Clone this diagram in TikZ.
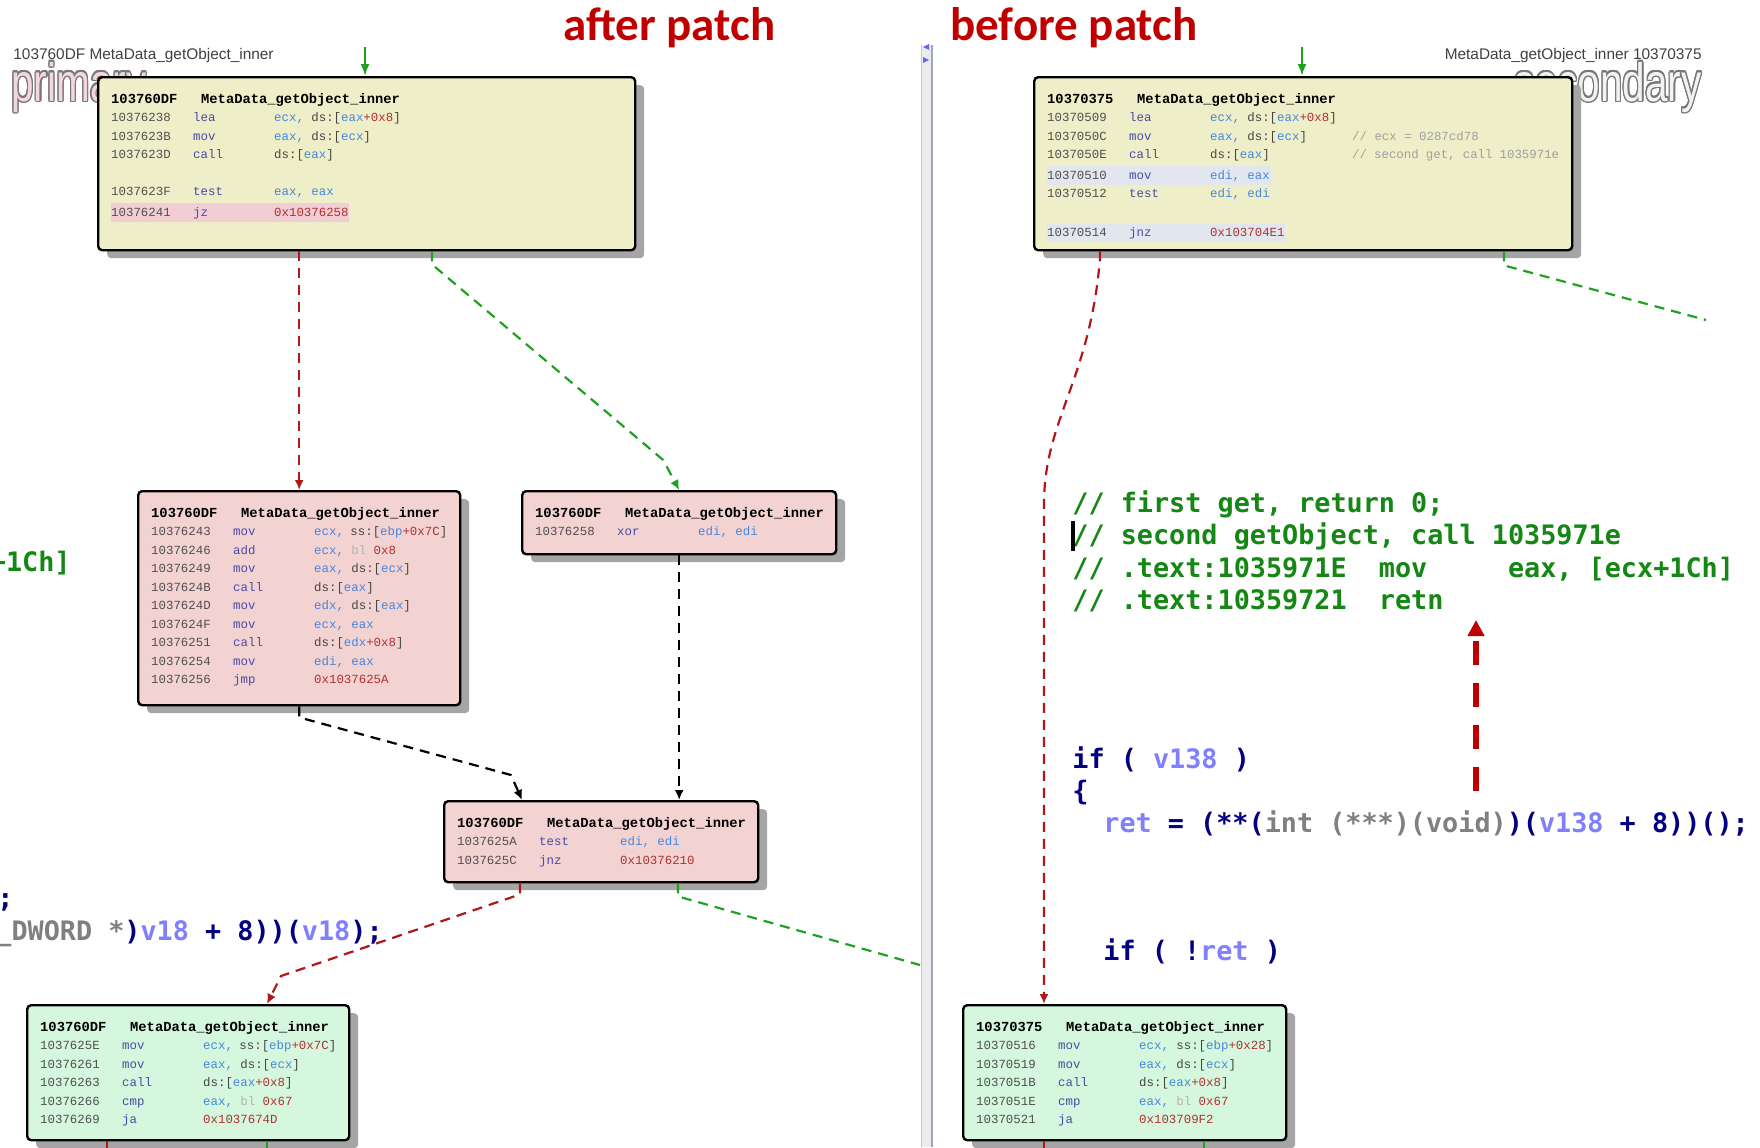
\documentclass[tikz,border=0pt]{standalone}
\usepackage{graphicx,xcolor}
\usepackage{fontspec}
\setmainfont{Liberation Sans}
\newfontfamily\asmfont{Liberation Mono}
\newfontfamily\codefont{DejaVu Sans Mono}
\newfontfamily\titlefont{Carlito}
\usepackage[copies]{contour}
\contourlength{0.8pt}
\usetikzlibrary{arrows.meta,shadows}
\definecolor{R1}{RGB}{176,24,24}
\definecolor{G1}{RGB}{34,160,34}
\definecolor{T1}{RGB}{192,0,0}
\definecolor{Y1}{RGB}{238,238,200}
\definecolor{P1}{RGB}{243,210,210}
\definecolor{E1}{RGB}{212,247,221}
\definecolor{S1}{RGB}{165,165,165}
\definecolor{HP}{RGB}{242,206,212}
\definecolor{HB}{RGB}{226,230,238}
\definecolor{AD}{RGB}{80,80,80}
\definecolor{MN}{RGB}{75,75,165}
\definecolor{RG}{RGB}{70,135,220}
\definecolor{NB}{RGB}{175,50,50}
\definecolor{OP}{RGB}{70,70,70}
\definecolor{BL}{RGB}{180,180,180}
\definecolor{CM}{RGB}{160,160,160}
\definecolor{LG}{RGB}{64,64,64}
\definecolor{WP}{RGB}{244,214,222}
\definecolor{WS}{RGB}{242,242,242}
\definecolor{WO}{RGB}{120,120,120}
\definecolor{NV}{RGB}{0,0,128}
\definecolor{VR}{RGB}{128,128,255}
\definecolor{CS}{RGB}{128,128,128}
\definecolor{CG}{RGB}{20,135,20}
\definecolor{DV}{RGB}{236,236,238}
\definecolor{DL}{RGB}{160,168,182}
\newcommand{\asmpane}[3]{\begin{minipage}[t][#2][t]{#1}\asmfont\fontsize{6.2}{9.25}\selectfont#3\end{minipage}}
\newcommand{\asmhead}[2]{\strut{\bfseries\fontsize{6.9}{9.25}\selectfont\makebox[45pt][l]{#1}#2}\par}
\newcommand{\asmline}[3]{\strut\makebox[41pt][l]{\color{AD}#1}\makebox[40.5pt][l]{\color{MN}#2}{\color{OP}#3}\par}
\newcommand{\asmnote}[4]{\strut\makebox[41pt][l]{\color{AD}#1}\makebox[40.5pt][l]{\color{MN}#2}\makebox[71pt][l]{\color{OP}#3}{\color{CM}#4}\par}
\newcommand{\asmgap}{\strut\par}
\newcommand{\asmmark}[2]{\makebox[0pt][l]{\color{#1}\rule[-2.7pt]{#2}{9.25pt}}}
\newcommand{\asmreg}[1]{\textcolor{RG}{#1}}
\newcommand{\asmnum}[1]{\textcolor{NB}{#1}}
\newcommand{\asmbl}[1]{\textcolor{BL}{#1}}
\begin{document}
\begin{tikzpicture}[x=0.5pt, y=-0.5pt,
    asmbox/.style={draw=black, line width=1.2pt, rounded corners=2pt, inner sep=6.5pt, anchor=north west,
      drop shadow={shadow xshift=4.5pt, shadow yshift=-4pt, fill=S1, opacity=1}},
    redflow/.style={R1, line width=1.1pt, dash pattern=on 5pt off 3.5pt, -{Latex[length=5pt,width=4.5pt]}},
    greenflow/.style={G1, line width=1.1pt, dash pattern=on 5pt off 3.5pt, -{Latex[length=5pt,width=4.5pt]}},
    blackflow/.style={black, line width=1.1pt, dash pattern=on 5pt off 3.5pt, -{Latex[length=5pt,width=4.5pt]}},
    entryarrow/.style={G1, line width=1.1pt, -{Latex[length=6pt,width=4.5pt]}},
    tag/.style={inner sep=0, text=LG, font=\fontsize{7.7}{9}\selectfont},
    wmark/.style={inner sep=0, font=\fontsize{27}{30}\selectfont},
    headline/.style={anchor=base west, inner sep=0, text=T1, font=\titlefont\bfseries\fontsize{23.5}{28}\selectfont},
    codeline/.style={anchor=base west, inner sep=0, font=\codefont\bfseries\fontsize{13.4}{16}\selectfont}]
  \path[use as bounding box, fill=white] (0,0) rectangle (1760,1147);
  % divider between the two views
  \fill[DV] (921,45) rectangle (932,1147);
  \draw[DL, line width=1pt] (932,45) -- (932,1147);
  \draw[DL!60, line width=0.4pt] (921,45) -- (921,1147);
  \fill[blue!60] (923,47) -- (929,44) -- (929,50) -- cycle;
  \fill[blue!60] (929,60) -- (923,57) -- (923,63) -- cycle;
  \node[wmark, anchor=base west] (prim) at (11,101) {\scalebox{0.75}[1]{\textcolor{WP}{\contour{WO}{primary}}}};
  \node[wmark, anchor=base east] (secd) at (1702,101) {\scalebox{0.75}[1]{\textcolor{WS}{\contour{WO}{secondary}}}};
  \node[tag, anchor=base west] (plabel) at (13,59.5) {103760DF MetaData\_getObject\_inner};
  \node[tag, anchor=base east] (slabel) at (1702,59.5) {MetaData\_getObject\_inner 10370375};
  \node[headline] (after) at (563,40.5) {after patch};
  \node[headline] (before) at (950,40.5) {before patch};
  % primary graph
  \node[asmbox, fill=Y1] (p1) at (97,76) {\asmpane{255.5pt}{73.5pt}{
    \asmhead{103760DF}{MetaData\_getObject\_inner}
    \asmline{10376238}{lea}{\asmreg{ecx,} ds:[\asmreg{eax}\asmnum{+0x8}]}
    \asmline{1037623B}{mov}{\asmreg{eax,} ds:[\asmreg{ecx}]}
    \asmline{1037623D}{call}{ds:[\asmreg{eax}]}
    \asmgap
    \asmline{1037623F}{test}{\asmreg{eax, eax}}
    \asmmark{HP}{119pt}\asmline{10376241}{jz}{\asmnum{0x10376258}}}};
  \node[asmbox, fill=P1] (p2) at (137,490) {\asmpane{148pt}{94pt}{
    \asmhead{103760DF}{MetaData\_getObject\_inner}
    \asmline{10376243}{mov}{\asmreg{ecx,} ss:[\asmreg{ebp}\asmnum{+0x7C}]}
    \asmline{10376246}{add}{\asmreg{ecx,} \asmbl{bl} \asmnum{0x8}}
    \asmline{10376249}{mov}{\asmreg{eax,} ds:[\asmreg{ecx}]}
    \asmline{1037624B}{call}{ds:[\asmreg{eax}]}
    \asmline{1037624D}{mov}{\asmreg{edx,} ds:[\asmreg{eax}]}
    \asmline{1037624F}{mov}{\asmreg{ecx, eax}}
    \asmline{10376251}{call}{ds:[\asmreg{edx}\asmnum{+0x8}]}
    \asmline{10376254}{mov}{\asmreg{edi, eax}}
    \asmline{10376256}{jmp}{\asmnum{0x1037625A}}}};
  \node[asmbox, fill=P1] (p3) at (521,490) {\asmpane{144pt}{18.5pt}{
    \asmhead{103760DF}{MetaData\_getObject\_inner}
    \asmline{10376258}{xor}{\asmreg{edi, edi}}}};
  \node[asmbox, fill=P1] (p4) at (443,800) {\asmpane{144pt}{27.5pt}{
    \asmhead{103760DF}{MetaData\_getObject\_inner}
    \asmline{1037625A}{test}{\asmreg{edi, edi}}
    \asmline{1037625C}{jnz}{\asmnum{0x10376210}}}};
  \node[asmbox, fill=E1] (p5) at (26,1004) {\asmpane{148pt}{54.5pt}{
    \asmhead{103760DF}{MetaData\_getObject\_inner}
    \asmline{1037625E}{mov}{\asmreg{ecx,} ss:[\asmreg{ebp}\asmnum{+0x7C}]}
    \asmline{10376261}{mov}{\asmreg{eax,} ds:[\asmreg{ecx}]}
    \asmline{10376263}{call}{ds:[\asmreg{eax}\asmnum{+0x8}]}
    \asmline{10376266}{cmp}{\asmreg{eax,} \asmbl{bl} \asmnum{0x67}}
    \asmline{10376269}{ja}{\asmnum{0x1037674D}}}};
  % secondary graph
  \node[asmbox, fill=Y1] (s1) at (1033,76) {\asmpane{256pt}{73.5pt}{
    \asmhead{10370375}{MetaData\_getObject\_inner}
    \asmline{10370509}{lea}{\asmreg{ecx,} ds:[\asmreg{eax}\asmnum{+0x8}]}
    \asmnote{1037050C}{mov}{\asmreg{eax,} ds:[\asmreg{ecx}]}{// ecx = 0287cd78}
    \asmnote{1037050E}{call}{ds:[\asmreg{eax}]}{// second get, call 1035971e}
    \asmmark{HB}{112pt}\asmline{10370510}{mov}{\asmreg{edi, eax}}
    \asmline{10370512}{test}{\asmreg{edi, edi}}
    \asmgap
    \asmmark{HB}{119pt}\asmline{10370514}{jnz}{\asmnum{0x103704E1}}}};
  \node[asmbox, fill=E1] (s2) at (962,1004) {\asmpane{148.5pt}{54.5pt}{
    \asmhead{10370375}{MetaData\_getObject\_inner}
    \asmline{10370516}{mov}{\asmreg{ecx,} ss:[\asmreg{ebp}\asmnum{+0x28}]}
    \asmline{10370519}{mov}{\asmreg{eax,} ds:[\asmreg{ecx}]}
    \asmline{1037051B}{call}{ds:[\asmreg{eax}\asmnum{+0x8}]}
    \asmline{1037051E}{cmp}{\asmreg{eax,} \asmbl{bl} \asmnum{0x67}}
    \asmline{10370521}{ja}{\asmnum{0x103709F2}}}};
  % edges
  \coordinate (pin) at (365,47);
  \draw[entryarrow] (pin) -- (pin |- p1.north);
  \draw[redflow] (p2.north |- p1.south) -- (p2.north);
  \draw[greenflow] ([shift={(335,0)}]p1.south west) -- ++(0,13) -- ([shift={(-16,-30)}]p3.north) -- (p3.north);
  \draw[blackflow] (p2.south) -- ++(0,11) -- ([shift={(68,-25)}]p4.north west) -- ([shift={(79,0)}]p4.north west);
  \draw[blackflow] (p3.south) -- (p3.south |- p4.north);
  \draw[redflow] ([shift={(77,0)}]p4.south west) -- ++(0,11) -- ([shift={(255,-28)}]p5.north west) -- ([shift={(241,0)}]p5.north west);
  \coordinate (pout) at (920,965);
  \draw[greenflow, -] ([shift={(235,0)}]p4.south west) -- ++(0,13) -- (pout);
  \draw[redflow, -] ([shift={(81,0)}]p5.south west) -- ++(0,12);
  \draw[greenflow, -] ([shift={(241,0)}]p5.south west) -- ++(0,12);
  \coordinate (sin) at (1302,47);
  \draw[entryarrow] (sin) -- (sin |- s1.north);
  \draw[redflow] ([shift={(67,0)}]s1.south west) -- ++(0,7) .. controls (1090,380) and (1044,420) .. ([shift={(82,-500)}]s2.north west) -- ([shift={(82,0)}]s2.north west);
  \coordinate (sout) at (1706,320);
  \draw[greenflow, -] ([shift={(471,0)}]s1.south west) -- ++(0,14) -- (sout);
  \draw[redflow, -] ([shift={(82,0)}]s2.south west) -- ++(0,12);
  \draw[greenflow, -] ([shift={(242,0)}]s2.south west) -- ++(0,12);
  % pseudo-code overlay
  \node[codeline, text=CG] (c1) at (1072,512.5) {// first get, return 0;};
  \node[codeline, text=CG] (c2) at (1072,544.5) {// second getObject, call 1035971e};
  \node[codeline, text=CG] (c3) at (1072,577) {// .text:1035971E\ \ mov\ \ \ \ \ eax, [ecx+1Ch]};
  \node[codeline, text=CG] (c4) at (1072,609.5) {// .text:10359721\ \ retn};
  \fill[black] (1071,521) rectangle (1074.5,551);
  \node[codeline, text=NV] (c5) at (1072,768.5) {if ( \textcolor{VR}{v138} )};
  \node[codeline, text=NV] (c6) at (1072,800.5) {\{};
  \node[codeline, text=NV] (c7) at (1103,832.5) {\textcolor{VR}{ret} = (**(\textcolor{CS}{int (***)(void)})(\textcolor{VR}{v138} + 8))();};
  \node[codeline, text=NV] (c8) at (1103,960.5) {if ( !\textcolor{VR}{ret} )};
  \node[codeline, text=CG] (l1) at (-10.5,571.5) {+1Ch]};
  \node[codeline, text=NV] (l2) at (-3,907.5) {;};
  \node[codeline, text=NV] (l3) at (-5,940.5) {\textcolor{CS}{\_DWORD *})\textcolor{VR}{v18} + 8))(\textcolor{VR}{v18});};
  \coordinate (uptail) at (1476,791);
  \coordinate (uphead) at (1476,620);
  \draw[T1, line width=2.8pt, dash pattern=on 12pt off 9pt, -{Triangle[length=8pt,width=8pt]}] (uptail) -- (uphead);
\end{tikzpicture}
\end{document}
